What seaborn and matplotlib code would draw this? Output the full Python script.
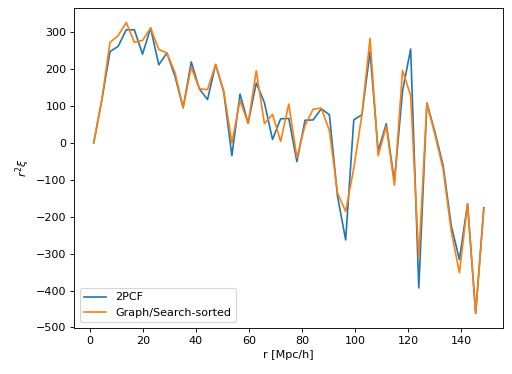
import matplotlib
matplotlib.use("Agg")
import matplotlib.pyplot as plt
import seaborn as sns
import pandas as pd

# r bin centres [Mpc/h]
r = [1.53, 4.59, 7.65, 10.71, 13.78, 16.84, 19.90, 22.96, 26.02, 29.08,
     32.14, 35.20, 38.27, 41.33, 44.39, 47.45, 50.51, 53.57, 56.63, 59.69,
     62.76, 65.82, 68.88, 71.94, 75.00, 78.06, 81.12, 84.18, 87.24, 90.31,
     93.37, 96.43, 99.49, 102.55, 105.61, 108.67, 111.73, 114.80, 117.86, 120.92,
     123.98, 127.04, 130.10, 133.16, 136.22, 139.29, 142.35, 145.41, 148.47]

# r^2 xi for the two methods
xi_2pcf = [0, 117, 247, 261, 306, 306, 240, 311, 211, 243,
           180, 95, 219, 146, 117, 212, 137, -35, 132, 53,
           162, 109, 9, 65, 66, -51, 61, 62, 92, 76,
           -145, -263, 62, 76, 247, -22, 52, -105, 140, 254,
           -393, 108, 28, -62, -225, -316, -165, -462, -176]
xi_graph = [0, 117, 272, 290, 326, 272, 277, 311, 253, 243,
            190, 95, 205, 146, 144, 212, 140, 0, 115, 52,
            195, 52, 77, 4, 105, -40, 47, 91, 94, 33,
            -136, -186, -69, 76, 283, -35, 45, -115, 196, 128,
            -312, 106, 22, -72, -240, -352, -165, -461, -180]

df = pd.DataFrame({"r": r, "2PCF": xi_2pcf, "Graph/Search-sorted": xi_graph})

fig = plt.figure(figsize=(6.4, 4.675), dpi=80)
ax = fig.add_subplot(111)
sns.lineplot(x="r", y="2PCF", data=df, color="#1f77b4", label="2PCF", ax=ax)
sns.lineplot(x="r", y="Graph/Search-sorted", data=df, color="#ff7f0e",
             label="Graph/Search-sorted", ax=ax)

ax.set_xlabel("r [Mpc/h]")
ax.set_ylabel(r"$r^2\xi$")
ax.legend(loc="lower left")
plt.subplots_adjust(left=0.145, right=0.983, top=0.979, bottom=0.123)

plt.savefig("out.png", dpi=80)
